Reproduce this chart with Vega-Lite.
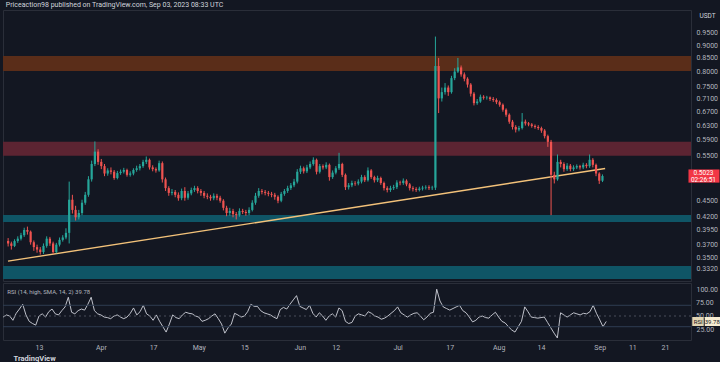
{
"$schema": "https://vega.github.io/schema/vega-lite/v6.json",
"padding": {"left": 0, "right": 0, "top": 0, "bottom": 0},
"background": "#131722",
"title": {"text": "Priceaction98 published on TradingView.com, Sep 03, 2023 08:33 UTC", "anchor": "start", "fontSize": 7, "fontWeight": "normal", "color": "#d1d4dc", "offset": 2, "dx": 5, "font": "Roboto"},
"spacing": 0,
"datasets": {
"px": [
{"d":"2023-03-02","o":0.376,"h":0.381,"l":0.367,"c":0.372,"r":48},
{"d":"2023-03-03","o":0.372,"h":0.375,"l":0.362,"c":0.368,"r":52},
{"d":"2023-03-04","o":0.368,"h":0.379,"l":0.366,"c":0.376,"r":50},
{"d":"2023-03-05","o":0.376,"h":0.384,"l":0.373,"c":0.380,"r":42},
{"d":"2023-03-06","o":0.380,"h":0.390,"l":0.377,"c":0.386,"r":55},
{"d":"2023-03-07","o":0.386,"h":0.399,"l":0.383,"c":0.395,"r":63},
{"d":"2023-03-08","o":0.395,"h":0.401,"l":0.387,"c":0.392,"r":72},
{"d":"2023-03-09","o":0.392,"h":0.394,"l":0.370,"c":0.374,"r":52},
{"d":"2023-03-10","o":0.374,"h":0.377,"l":0.360,"c":0.366,"r":40},
{"d":"2023-03-11","o":0.366,"h":0.370,"l":0.357,"c":0.362,"r":36},
{"d":"2023-03-12","o":0.362,"h":0.366,"l":0.354,"c":0.358,"r":33},
{"d":"2023-03-13","o":0.358,"h":0.372,"l":0.355,"c":0.368,"r":50},
{"d":"2023-03-14","o":0.368,"h":0.384,"l":0.365,"c":0.380,"r":54},
{"d":"2023-03-15","o":0.380,"h":0.383,"l":0.368,"c":0.372,"r":48},
{"d":"2023-03-16","o":0.372,"h":0.375,"l":0.355,"c":0.358,"r":58},
{"d":"2023-03-17","o":0.358,"h":0.373,"l":0.356,"c":0.370,"r":63},
{"d":"2023-03-18","o":0.370,"h":0.382,"l":0.367,"c":0.378,"r":54},
{"d":"2023-03-19","o":0.378,"h":0.386,"l":0.375,"c":0.382,"r":52},
{"d":"2023-03-20","o":0.382,"h":0.398,"l":0.379,"c":0.390,"r":60},
{"d":"2023-03-21","o":0.390,"h":0.490,"l":0.372,"c":0.452,"r":67},
{"d":"2023-03-22","o":0.452,"h":0.462,"l":0.425,"c":0.432,"r":85},
{"d":"2023-03-23","o":0.432,"h":0.440,"l":0.412,"c":0.418,"r":57},
{"d":"2023-03-24","o":0.418,"h":0.432,"l":0.414,"c":0.426,"r":54},
{"d":"2023-03-25","o":0.426,"h":0.452,"l":0.422,"c":0.446,"r":60},
{"d":"2023-03-26","o":0.446,"h":0.468,"l":0.442,"c":0.462,"r":63},
{"d":"2023-03-27","o":0.462,"h":0.502,"l":0.458,"c":0.495,"r":61},
{"d":"2023-03-28","o":0.495,"h":0.538,"l":0.490,"c":0.530,"r":72},
{"d":"2023-03-29","o":0.530,"h":0.586,"l":0.525,"c":0.560,"r":85},
{"d":"2023-03-30","o":0.560,"h":0.566,"l":0.528,"c":0.535,"r":60},
{"d":"2023-03-31","o":0.535,"h":0.542,"l":0.518,"c":0.525,"r":54},
{"d":"2023-04-01","o":0.525,"h":0.530,"l":0.502,"c":0.508,"r":52},
{"d":"2023-04-02","o":0.508,"h":0.520,"l":0.503,"c":0.515,"r":48},
{"d":"2023-04-03","o":0.515,"h":0.522,"l":0.506,"c":0.512,"r":47},
{"d":"2023-04-04","o":0.512,"h":0.516,"l":0.494,"c":0.498,"r":45},
{"d":"2023-04-05","o":0.498,"h":0.514,"l":0.495,"c":0.509,"r":50},
{"d":"2023-04-06","o":0.509,"h":0.517,"l":0.505,"c":0.512,"r":52},
{"d":"2023-04-07","o":0.512,"h":0.521,"l":0.508,"c":0.516,"r":48},
{"d":"2023-04-08","o":0.516,"h":0.519,"l":0.501,"c":0.505,"r":45},
{"d":"2023-04-09","o":0.505,"h":0.513,"l":0.501,"c":0.508,"r":48},
{"d":"2023-04-10","o":0.508,"h":0.520,"l":0.504,"c":0.516,"r":55},
{"d":"2023-04-11","o":0.516,"h":0.526,"l":0.512,"c":0.520,"r":65},
{"d":"2023-04-12","o":0.520,"h":0.530,"l":0.515,"c":0.525,"r":52},
{"d":"2023-04-13","o":0.525,"h":0.540,"l":0.521,"c":0.535,"r":58},
{"d":"2023-04-14","o":0.535,"h":0.548,"l":0.530,"c":0.540,"r":70},
{"d":"2023-04-15","o":0.540,"h":0.543,"l":0.517,"c":0.522,"r":54},
{"d":"2023-04-16","o":0.522,"h":0.527,"l":0.513,"c":0.518,"r":50},
{"d":"2023-04-17","o":0.518,"h":0.522,"l":0.510,"c":0.515,"r":42},
{"d":"2023-04-18","o":0.515,"h":0.538,"l":0.512,"c":0.532,"r":52},
{"d":"2023-04-19","o":0.532,"h":0.536,"l":0.488,"c":0.495,"r":40},
{"d":"2023-04-20","o":0.495,"h":0.499,"l":0.470,"c":0.476,"r":30},
{"d":"2023-04-21","o":0.476,"h":0.480,"l":0.460,"c":0.466,"r":20},
{"d":"2023-04-22","o":0.466,"h":0.474,"l":0.461,"c":0.468,"r":35},
{"d":"2023-04-23","o":0.468,"h":0.472,"l":0.457,"c":0.462,"r":52},
{"d":"2023-04-24","o":0.462,"h":0.467,"l":0.450,"c":0.455,"r":47},
{"d":"2023-04-25","o":0.455,"h":0.475,"l":0.451,"c":0.470,"r":45},
{"d":"2023-04-26","o":0.470,"h":0.478,"l":0.450,"c":0.456,"r":52},
{"d":"2023-04-27","o":0.456,"h":0.470,"l":0.452,"c":0.465,"r":57},
{"d":"2023-04-28","o":0.465,"h":0.477,"l":0.461,"c":0.472,"r":55},
{"d":"2023-04-29","o":0.472,"h":0.481,"l":0.468,"c":0.476,"r":54},
{"d":"2023-04-30","o":0.476,"h":0.480,"l":0.465,"c":0.470,"r":50},
{"d":"2023-05-01","o":0.470,"h":0.474,"l":0.460,"c":0.466,"r":48},
{"d":"2023-05-02","o":0.466,"h":0.470,"l":0.455,"c":0.460,"r":40},
{"d":"2023-05-03","o":0.460,"h":0.465,"l":0.453,"c":0.458,"r":42},
{"d":"2023-05-04","o":0.458,"h":0.462,"l":0.450,"c":0.455,"r":45},
{"d":"2023-05-05","o":0.455,"h":0.465,"l":0.451,"c":0.460,"r":50},
{"d":"2023-05-06","o":0.460,"h":0.464,"l":0.451,"c":0.456,"r":54},
{"d":"2023-05-07","o":0.456,"h":0.460,"l":0.446,"c":0.450,"r":45},
{"d":"2023-05-08","o":0.450,"h":0.453,"l":0.431,"c":0.436,"r":35},
{"d":"2023-05-09","o":0.436,"h":0.440,"l":0.420,"c":0.426,"r":18},
{"d":"2023-05-10","o":0.426,"h":0.436,"l":0.421,"c":0.430,"r":28},
{"d":"2023-05-11","o":0.430,"h":0.434,"l":0.418,"c":0.424,"r":35},
{"d":"2023-05-12","o":0.424,"h":0.428,"l":0.414,"c":0.422,"r":55},
{"d":"2023-05-13","o":0.422,"h":0.435,"l":0.419,"c":0.430,"r":52},
{"d":"2023-05-14","o":0.430,"h":0.434,"l":0.424,"c":0.428,"r":48},
{"d":"2023-05-15","o":0.428,"h":0.432,"l":0.421,"c":0.426,"r":50},
{"d":"2023-05-16","o":0.426,"h":0.437,"l":0.422,"c":0.432,"r":58},
{"d":"2023-05-17","o":0.432,"h":0.451,"l":0.429,"c":0.446,"r":72},
{"d":"2023-05-18","o":0.446,"h":0.466,"l":0.442,"c":0.460,"r":68},
{"d":"2023-05-19","o":0.460,"h":0.476,"l":0.456,"c":0.470,"r":68},
{"d":"2023-05-20","o":0.470,"h":0.474,"l":0.463,"c":0.468,"r":60},
{"d":"2023-05-21","o":0.468,"h":0.472,"l":0.461,"c":0.466,"r":56},
{"d":"2023-05-22","o":0.466,"h":0.470,"l":0.459,"c":0.464,"r":54},
{"d":"2023-05-23","o":0.464,"h":0.468,"l":0.457,"c":0.462,"r":52},
{"d":"2023-05-24","o":0.462,"h":0.466,"l":0.452,"c":0.458,"r":48},
{"d":"2023-05-25","o":0.458,"h":0.461,"l":0.445,"c":0.450,"r":45},
{"d":"2023-05-26","o":0.450,"h":0.468,"l":0.447,"c":0.464,"r":62},
{"d":"2023-05-27","o":0.464,"h":0.474,"l":0.460,"c":0.470,"r":66},
{"d":"2023-05-28","o":0.470,"h":0.481,"l":0.466,"c":0.476,"r":63},
{"d":"2023-05-29","o":0.476,"h":0.487,"l":0.472,"c":0.482,"r":72},
{"d":"2023-05-30","o":0.482,"h":0.496,"l":0.478,"c":0.490,"r":80},
{"d":"2023-05-31","o":0.490,"h":0.518,"l":0.486,"c":0.512,"r":88},
{"d":"2023-06-01","o":0.512,"h":0.526,"l":0.507,"c":0.520,"r":68},
{"d":"2023-06-02","o":0.520,"h":0.524,"l":0.508,"c":0.513,"r":65},
{"d":"2023-06-03","o":0.513,"h":0.528,"l":0.509,"c":0.522,"r":62},
{"d":"2023-06-04","o":0.522,"h":0.536,"l":0.518,"c":0.530,"r":70},
{"d":"2023-06-05","o":0.530,"h":0.546,"l":0.526,"c":0.540,"r":55},
{"d":"2023-06-06","o":0.540,"h":0.543,"l":0.506,"c":0.512,"r":48},
{"d":"2023-06-07","o":0.512,"h":0.530,"l":0.508,"c":0.525,"r":56},
{"d":"2023-06-08","o":0.525,"h":0.529,"l":0.517,"c":0.522,"r":50},
{"d":"2023-06-09","o":0.522,"h":0.534,"l":0.518,"c":0.528,"r":42},
{"d":"2023-06-10","o":0.528,"h":0.531,"l":0.492,"c":0.500,"r":50},
{"d":"2023-06-11","o":0.500,"h":0.515,"l":0.496,"c":0.510,"r":54},
{"d":"2023-06-12","o":0.510,"h":0.525,"l":0.506,"c":0.520,"r":48},
{"d":"2023-06-13","o":0.520,"h":0.557,"l":0.516,"c":0.530,"r":65},
{"d":"2023-06-14","o":0.530,"h":0.533,"l":0.500,"c":0.505,"r":60},
{"d":"2023-06-15","o":0.505,"h":0.508,"l":0.472,"c":0.478,"r":40},
{"d":"2023-06-16","o":0.478,"h":0.487,"l":0.473,"c":0.482,"r":36},
{"d":"2023-06-17","o":0.482,"h":0.492,"l":0.478,"c":0.487,"r":38},
{"d":"2023-06-18","o":0.487,"h":0.491,"l":0.481,"c":0.486,"r":50},
{"d":"2023-06-19","o":0.486,"h":0.495,"l":0.482,"c":0.490,"r":54},
{"d":"2023-06-20","o":0.490,"h":0.505,"l":0.486,"c":0.500,"r":52},
{"d":"2023-06-21","o":0.500,"h":0.504,"l":0.489,"c":0.493,"r":50},
{"d":"2023-06-22","o":0.493,"h":0.522,"l":0.490,"c":0.515,"r":58},
{"d":"2023-06-23","o":0.515,"h":0.518,"l":0.496,"c":0.500,"r":55},
{"d":"2023-06-24","o":0.500,"h":0.503,"l":0.488,"c":0.493,"r":50},
{"d":"2023-06-25","o":0.493,"h":0.503,"l":0.489,"c":0.498,"r":48},
{"d":"2023-06-26","o":0.498,"h":0.501,"l":0.483,"c":0.487,"r":44},
{"d":"2023-06-27","o":0.487,"h":0.490,"l":0.471,"c":0.476,"r":46},
{"d":"2023-06-28","o":0.476,"h":0.480,"l":0.467,"c":0.472,"r":50},
{"d":"2023-06-29","o":0.472,"h":0.481,"l":0.468,"c":0.476,"r":55},
{"d":"2023-06-30","o":0.476,"h":0.483,"l":0.472,"c":0.478,"r":60},
{"d":"2023-07-01","o":0.478,"h":0.493,"l":0.474,"c":0.488,"r":67},
{"d":"2023-07-02","o":0.488,"h":0.492,"l":0.482,"c":0.487,"r":56},
{"d":"2023-07-03","o":0.487,"h":0.497,"l":0.483,"c":0.492,"r":52},
{"d":"2023-07-04","o":0.492,"h":0.495,"l":0.480,"c":0.484,"r":48},
{"d":"2023-07-05","o":0.484,"h":0.487,"l":0.471,"c":0.476,"r":52},
{"d":"2023-07-06","o":0.476,"h":0.480,"l":0.469,"c":0.474,"r":55},
{"d":"2023-07-07","o":0.474,"h":0.478,"l":0.468,"c":0.472,"r":56},
{"d":"2023-07-08","o":0.472,"h":0.479,"l":0.469,"c":0.475,"r":50},
{"d":"2023-07-09","o":0.475,"h":0.481,"l":0.471,"c":0.477,"r":43},
{"d":"2023-07-10","o":0.477,"h":0.482,"l":0.473,"c":0.478,"r":48},
{"d":"2023-07-11","o":0.478,"h":0.482,"l":0.472,"c":0.476,"r":55},
{"d":"2023-07-12","o":0.476,"h":0.481,"l":0.472,"c":0.477,"r":57},
{"d":"2023-07-13","o":0.477,"h":0.935,"l":0.472,"c":0.820,"r":100},
{"d":"2023-07-14","o":0.820,"h":0.850,"l":0.665,"c":0.710,"r":78},
{"d":"2023-07-15","o":0.710,"h":0.745,"l":0.700,"c":0.730,"r":67},
{"d":"2023-07-16","o":0.730,"h":0.760,"l":0.722,"c":0.745,"r":64},
{"d":"2023-07-17","o":0.745,"h":0.752,"l":0.718,"c":0.730,"r":61},
{"d":"2023-07-18","o":0.730,"h":0.785,"l":0.725,"c":0.777,"r":64},
{"d":"2023-07-19","o":0.777,"h":0.812,"l":0.770,"c":0.800,"r":67},
{"d":"2023-07-20","o":0.800,"h":0.850,"l":0.795,"c":0.815,"r":70},
{"d":"2023-07-21","o":0.815,"h":0.822,"l":0.782,"c":0.790,"r":60},
{"d":"2023-07-22","o":0.790,"h":0.797,"l":0.766,"c":0.775,"r":56},
{"d":"2023-07-23","o":0.775,"h":0.780,"l":0.745,"c":0.755,"r":48},
{"d":"2023-07-24","o":0.755,"h":0.760,"l":0.716,"c":0.725,"r":39},
{"d":"2023-07-25","o":0.725,"h":0.730,"l":0.688,"c":0.695,"r":42},
{"d":"2023-07-26","o":0.695,"h":0.708,"l":0.690,"c":0.700,"r":48},
{"d":"2023-07-27","o":0.700,"h":0.722,"l":0.696,"c":0.715,"r":50},
{"d":"2023-07-28","o":0.715,"h":0.720,"l":0.706,"c":0.712,"r":47},
{"d":"2023-07-29","o":0.712,"h":0.718,"l":0.706,"c":0.713,"r":46},
{"d":"2023-07-30","o":0.713,"h":0.716,"l":0.702,"c":0.708,"r":52},
{"d":"2023-07-31","o":0.708,"h":0.714,"l":0.699,"c":0.705,"r":57},
{"d":"2023-08-01","o":0.705,"h":0.710,"l":0.692,"c":0.698,"r":48},
{"d":"2023-08-02","o":0.698,"h":0.703,"l":0.684,"c":0.690,"r":40},
{"d":"2023-08-03","o":0.690,"h":0.694,"l":0.669,"c":0.675,"r":37},
{"d":"2023-08-04","o":0.675,"h":0.679,"l":0.654,"c":0.660,"r":30},
{"d":"2023-08-05","o":0.660,"h":0.664,"l":0.634,"c":0.640,"r":24},
{"d":"2023-08-06","o":0.640,"h":0.645,"l":0.618,"c":0.625,"r":20},
{"d":"2023-08-07","o":0.625,"h":0.630,"l":0.610,"c":0.618,"r":30},
{"d":"2023-08-08","o":0.618,"h":0.628,"l":0.613,"c":0.622,"r":40},
{"d":"2023-08-09","o":0.622,"h":0.665,"l":0.618,"c":0.640,"r":67},
{"d":"2023-08-10","o":0.640,"h":0.646,"l":0.629,"c":0.635,"r":58},
{"d":"2023-08-11","o":0.635,"h":0.639,"l":0.627,"c":0.632,"r":48},
{"d":"2023-08-12","o":0.632,"h":0.636,"l":0.623,"c":0.628,"r":47},
{"d":"2023-08-13","o":0.628,"h":0.632,"l":0.620,"c":0.625,"r":46},
{"d":"2023-08-14","o":0.625,"h":0.630,"l":0.617,"c":0.622,"r":47},
{"d":"2023-08-15","o":0.622,"h":0.626,"l":0.609,"c":0.615,"r":48},
{"d":"2023-08-16","o":0.615,"h":0.619,"l":0.594,"c":0.600,"r":38},
{"d":"2023-08-17","o":0.600,"h":0.604,"l":0.572,"c":0.585,"r":28},
{"d":"2023-08-18","o":0.585,"h":0.590,"l":0.422,"c":0.505,"r":18},
{"d":"2023-08-19","o":0.505,"h":0.512,"l":0.486,"c":0.495,"r":9},
{"d":"2023-08-20","o":0.495,"h":0.553,"l":0.492,"c":0.535,"r":56},
{"d":"2023-08-21","o":0.535,"h":0.540,"l":0.522,"c":0.530,"r":52},
{"d":"2023-08-22","o":0.530,"h":0.534,"l":0.512,"c":0.518,"r":48},
{"d":"2023-08-23","o":0.518,"h":0.532,"l":0.514,"c":0.526,"r":52},
{"d":"2023-08-24","o":0.526,"h":0.530,"l":0.513,"c":0.518,"r":56},
{"d":"2023-08-25","o":0.518,"h":0.527,"l":0.514,"c":0.522,"r":54},
{"d":"2023-08-26","o":0.522,"h":0.529,"l":0.518,"c":0.525,"r":52},
{"d":"2023-08-27","o":0.525,"h":0.528,"l":0.517,"c":0.522,"r":55},
{"d":"2023-08-28","o":0.522,"h":0.533,"l":0.518,"c":0.528,"r":54},
{"d":"2023-08-29","o":0.528,"h":0.532,"l":0.520,"c":0.525,"r":58},
{"d":"2023-08-30","o":0.525,"h":0.553,"l":0.521,"c":0.540,"r":70},
{"d":"2023-08-31","o":0.540,"h":0.544,"l":0.522,"c":0.528,"r":55},
{"d":"2023-09-01","o":0.528,"h":0.531,"l":0.502,"c":0.508,"r":43},
{"d":"2023-09-02","o":0.508,"h":0.511,"l":0.485,"c":0.492,"r":30},
{"d":"2023-09-03","o":0.492,"h":0.506,"l":0.489,"c":0.5023,"r":39.78}
],
"zones": [
{"z":"r1","lo":0.802,"hi":0.857},
{"z":"r2","lo":0.550,"hi":0.585},
{"z":"s1","lo":0.4094,"hi":0.4224},
{"z":"s2","lo":0.3176,"hi":0.3365}
],
"trend": [
{"d":"2023-03-01T23:00:00Z","p":0.3438},
{"d":"2023-09-03T20:00:00Z","p":0.5195}
],
"lv": [{"v":30},{"v":50},{"v":70}],
"rl": [{"v":50},{"v":75}]
},
"vconcat": [
{
"width": 688,
"height": 271,
"layer": [
{
"data": {"name": "zones"},
"mark": {"type": "rect"},
"encoding": {
"y": {"field": "lo", "type": "quantitative",
"scale": {"type": "log", "domain": [0.3147, 1.0525], "nice": false, "zero": false},
"axis": {"orient": "right", "values": [0.332, 0.35, 0.37, 0.395, 0.42, 0.45, 0.55, 0.59, 0.63, 0.67, 0.71, 0.75, 0.8, 0.85, 0.9, 0.95], "format": ".4f", "labelPadding": 5, "labelAlign": "left", "labelOverlap": false,
"title": "USDT", "titleAngle": 0, "titleX": 16, "titleY": 5, "titleAlign": "center", "titleBaseline": "middle", "titleFontSize": 6.5, "titleFontWeight": "normal", "titleColor": "#d1d4dc"}},
"y2": {"field": "hi"},
"color": {"field": "z", "type": "nominal", "legend": null,
"scale": {"domain": ["r1", "r2", "s1", "s2"], "range": ["#5a2d19", "#5c2432", "#0f5566", "#0f5566"]}}
}
},
{
"data": {"name": "trend"},
"mark": {"type": "line", "color": "#f3c27a", "strokeWidth": 1.4},
"encoding": {
"x": {"field": "d", "type": "temporal", "scale": {"type": "utc", "domain": [{"year": 2023, "month": 3, "date": 1, "hours": 23, "utc": true}, {"year": 2023, "month": 9, "date": 29, "utc": true}]}, "axis": null},
"y": {"field": "p", "type": "quantitative"}
}
},
{
"data": {"name": "px"},
"mark": {"type": "rule", "strokeWidth": 1},
"encoding": {
"x": {"field": "d", "type": "temporal", "axis": null},
"y": {"field": "l", "type": "quantitative"},
"y2": {"field": "h"},
"color": {"condition": {"test": "datum.o > datum.c", "value": "#ef5350"}, "value": "#26a69a"}
}
},
{
"data": {"name": "px"},
"mark": {"type": "bar", "size": 2.2},
"encoding": {
"x": {"field": "d", "type": "temporal", "axis": null},
"y": {"field": "o", "type": "quantitative"},
"y2": {"field": "c"},
"color": {"condition": {"test": "datum.o > datum.c", "value": "#ef5350"}, "value": "#26a69a"}
}
},
{
"data": {"name": "px"},
"transform": [{"filter": "datum.c == 0.5023"}],
"mark": {"type": "point", "shape": "M8.6,-0.66H11.7V0.66H8.6Z", "size": 400, "filled": true, "opacity": 1, "color": "#f23645", "strokeWidth": 0},
"encoding": {
"x": {"field": "d", "type": "temporal", "axis": null},
"y": {"field": "c", "type": "quantitative"}
}
},
{
"data": {"name": "px"},
"transform": [{"filter": "datum.c == 0.5023"}],
"mark": {"type": "text", "dx": 101, "dy": -3, "fontSize": 6.5, "color": "#ffffff", "align": "center", "baseline": "middle", "font": "Roboto"},
"encoding": {
"x": {"field": "d", "type": "temporal", "axis": null},
"y": {"field": "c", "type": "quantitative"},
"text": {"field": "c", "type": "quantitative", "format": ".4f"}
}
},
{
"data": {"name": "px"},
"transform": [{"filter": "datum.c == 0.5023"}],
"mark": {"type": "text", "dx": 101, "dy": 3.5, "fontSize": 6.5, "color": "#ffffff", "align": "center", "baseline": "middle", "font": "Roboto"},
"encoding": {
"x": {"field": "d", "type": "temporal", "axis": null},
"y": {"field": "c", "type": "quantitative"},
"text": {"value": "02:26:51"}
}
}
]
},
{
"width": 688,
"height": 57,
"title": {"text": "RSI (14, high, SMA, 14, 2)  39.78", "anchor": "start", "offset": -12, "dx": 6, "fontSize": 6, "fontWeight": "normal", "color": "#b2b5be", "font": "Roboto"},
"layer": [
{
"data": {"name": "px"},
"mark": {"type": "line", "color": "#d1d4dc", "strokeWidth": 0.9},
"encoding": {
"x": {"field": "d", "type": "temporal",
"scale": {"type": "utc", "domain": [{"year": 2023, "month": 3, "date": 1, "hours": 23, "utc": true}, {"year": 2023, "month": 9, "date": 29, "utc": true}]},
"axis": {"values": [
{"year": 2023, "month": 3, "date": 13, "utc": true},
{"year": 2023, "month": 4, "date": 1, "utc": true},
{"year": 2023, "month": 4, "date": 17, "utc": true},
{"year": 2023, "month": 5, "date": 1, "utc": true},
{"year": 2023, "month": 5, "date": 15, "utc": true},
{"year": 2023, "month": 6, "date": 1, "utc": true},
{"year": 2023, "month": 6, "date": 12, "utc": true},
{"year": 2023, "month": 7, "date": 1, "utc": true},
{"year": 2023, "month": 7, "date": 17, "utc": true},
{"year": 2023, "month": 8, "date": 1, "utc": true},
{"year": 2023, "month": 8, "date": 14, "utc": true},
{"year": 2023, "month": 9, "date": 1, "utc": true},
{"year": 2023, "month": 9, "date": 11, "utc": true},
{"year": 2023, "month": 9, "date": 21, "utc": true}],
"labelExpr": "utcdate(datum.value) == 1 ? utcFormat(datum.value, '%b') : utcFormat(datum.value, '%-d')",
"labelPadding": 3, "labelOverlap": false, "labelFlush": false,
"title": "TradingView", "titleAnchor": "start", "titleAlign": "left", "titleBaseline": "middle", "titleX": 10, "titleY": 18, "titleFontSize": 7.5, "titleFontWeight": "bold", "titleColor": "#d1d4dc"}},
"y": {"field": "r", "type": "quantitative", "scale": {"domain": [5.2, 111.6], "nice": false, "zero": false},
"axis": {"orient": "right", "values": [25, 50, 75, 100], "format": ".2f", "labelPadding": 5, "labelAlign": "left", "labelBaseline": "middle", "labelOverlap": false, "labelFlush": false, "labelBound": false, "labelSeparation": 0, "title": null}}
}
},
{
"data": {"name": "lv"},
"transform": [{"filter": "datum.v != 50"}],
"mark": {"type": "rule", "color": "#2f3d52", "strokeWidth": 1},
"encoding": {
"y": {"field": "v", "type": "quantitative"}
}
},
{
"data": {"name": "lv"},
"transform": [{"filter": "datum.v == 50"}],
"mark": {"type": "rule", "color": "#4a4e5a", "strokeWidth": 1, "strokeDash": [2, 3]},
"encoding": {
"y": {"field": "v", "type": "quantitative"}
}
},
{
"data": {"name": "rl"},
"mark": {"type": "text", "dx": 5, "align": "left", "baseline": "middle", "fontSize": 7, "color": "#b2b5be", "font": "Roboto"},
"encoding": {
"x": {"datum": {"year": 2023, "month": 9, "date": 29, "utc": true}, "type": "temporal"},
"y": {"field": "v", "type": "quantitative"},
"text": {"field": "v", "type": "quantitative", "format": ".2f"}
}
},
{
"data": {"name": "px"},
"transform": [{"filter": "datum.c == 0.5023"}],
"mark": {"type": "point", "shape": "M8.6,-0.45H9.75V0.45H8.6Z", "size": 400, "filled": true, "opacity": 1, "color": "#e3d5b3", "strokeWidth": 0},
"encoding": {
"x": {"field": "d", "type": "temporal"},
"y": {"field": "r", "type": "quantitative"}
}
},
{
"data": {"name": "px"},
"transform": [{"filter": "datum.c == 0.5023"}],
"mark": {"type": "point", "shape": "M9.85,-0.45H11.4V0.45H9.85Z", "size": 400, "filled": true, "opacity": 1, "color": "#f6ecd2", "strokeWidth": 0},
"encoding": {
"x": {"field": "d", "type": "temporal"},
"y": {"field": "r", "type": "quantitative"}
}
},
{
"data": {"name": "px"},
"transform": [{"filter": "datum.c == 0.5023"}],
"mark": {"type": "text", "dx": 92, "dy": 0.5, "fontSize": 6, "color": "#131722", "align": "center", "baseline": "middle", "font": "Roboto"},
"encoding": {
"x": {"field": "d", "type": "temporal"},
"y": {"field": "r", "type": "quantitative"},
"text": {"value": "RSI"}
}
},
{
"data": {"name": "px"},
"transform": [{"filter": "datum.c == 0.5023"}],
"mark": {"type": "text", "dx": 106, "dy": 0.5, "fontSize": 6, "color": "#131722", "align": "center", "baseline": "middle", "font": "Roboto"},
"encoding": {
"x": {"field": "d", "type": "temporal"},
"y": {"field": "r", "type": "quantitative"},
"text": {"field": "r", "type": "quantitative", "format": ".2f"}
}
}
]
}
],
"config": {
"view": {"stroke": "#2a2e39", "fill": "#131722"},
"axis": {"labelColor": "#b2b5be", "labelFontSize": 7, "labelFont": "Roboto", "titleFont": "Roboto", "domain": false, "ticks": false, "grid": false, "labelOverlap": false, "labelFlush": false, "labelBound": false},
"axisY": {"labelOverlap": false},
"axisQuantitative": {"labelOverlap": false},
"title": {"font": "Roboto"}
}
}
